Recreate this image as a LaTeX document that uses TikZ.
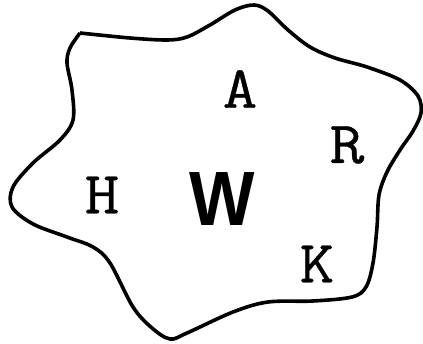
\documentclass[tikz,border=0pt]{standalone}
\usepackage{fontspec}
\usepackage{tikz}
\newfontfamily\lettermono[FakeBold=0.5]{Latin Modern Mono}
\newfontfamily\letterbold{Liberation Sans}
\definecolor{inkcol}{RGB}{0,0,0}
\tikzset{
  blob/.style={draw=inkcol,line width=3.6pt,line join=round},
  ltr/.style={inner sep=0pt,text=inkcol,xscale=1.12,font=\lettermono\fontsize{60}{60}\selectfont},
  bigltr/.style={inner sep=0pt,text=inkcol,xscale=0.9,font=\letterbold\bfseries\fontsize{77}{77}\selectfont}
}
\begin{document}
\begin{tikzpicture}[x=1pt,y=-1pt]
  \useasboundingbox (0,0) rectangle (423,344);
  \draw[blob] plot[smooth,tension=0.55] coordinates {
    (80,33) (130,38) (167,40) (187,37) (210,25) (235,10) (254,5) (268,11)
    (288,30) (310,47) (335,58) (367,67) (400,80) (418,96) (421,113) (413,131)
    (400,150) (387,172) (379,195) (377,227) (373,263) (366,287) (352,297)
    (313,301) (268,302) (233,312) (187,333) (170,339) (152,328) (133,307)
    (110,263) (93,247) (67,237) (33,224) (12,207) (13,187) (33,163) (60,140)
    (73,120) (72,90) (67,63) (70,48) (80,33)};
  \node[ltr] (a) at (240,89){A};
  \node[ltr] (r) at (347,145){R};
  \node[ltr] (h) at (102,195){H};
  \node[ltr] (k) at (317,264){K};
  \node[bigltr] (w) at (222,199){W};
\end{tikzpicture}
\end{document}
